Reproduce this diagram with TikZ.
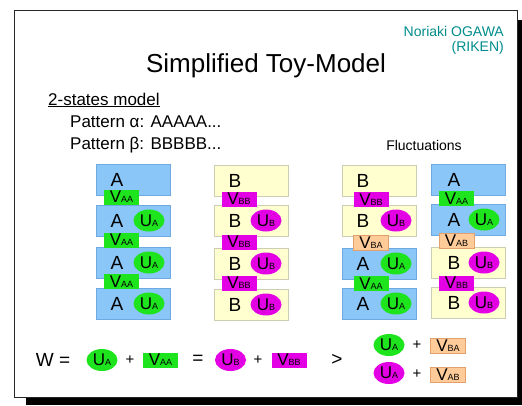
\documentclass[tikz,border=0pt]{standalone}
\usepackage{fontspec}
\setmainfont{Liberation Sans}
\usetikzlibrary{shapes.geometric}
\definecolor{boxblue}{RGB}{138,198,248}
\definecolor{boxblueline}{RGB}{110,170,225}
\definecolor{boxyel}{RGB}{255,255,208}
\definecolor{boxyelline}{RGB}{205,205,180}
\definecolor{ggreen}{RGB}{30,228,30}
\definecolor{mmag}{RGB}{228,0,228}
\definecolor{peach}{RGB}{255,204,153}
\definecolor{peachline}{RGB}{225,160,110}
\definecolor{teal}{RGB}{0,140,140}
\newcommand{\Vlab}[1]{{\fontsize{17}{17}\selectfont V}{\fontsize{9}{9}\selectfont #1}}
\newcommand{\Ulab}[1]{{\fontsize{17}{17}\selectfont U}{\fontsize{9}{9}\selectfont #1}}
\tikzset{
  boxa/.style={rectangle, fill=boxblue, draw=boxblueline, line width=0.6pt, minimum width=74pt, minimum height=31pt, inner sep=0pt, anchor=north west},
  boxb/.style={rectangle, fill=boxyel, draw=boxyelline, line width=0.6pt, minimum width=74pt, minimum height=31pt, inner sep=0pt, anchor=north west},
  letter/.style={font=\fontsize{19}{19}\selectfont, inner sep=0pt},
  vgreen/.style={rectangle, fill=ggreen, minimum width=35pt, minimum height=15pt, inner sep=0pt},
  vmag/.style={rectangle, fill=mmag, minimum width=35pt, minimum height=15pt, inner sep=0pt},
  vpeach/.style={rectangle, fill=peach, draw=peachline, line width=0.5pt, minimum width=35pt, minimum height=15pt, inner sep=0pt},
  ugreen/.style={ellipse, fill=ggreen, minimum width=31pt, minimum height=22pt, inner sep=0pt},
  umag/.style={ellipse, fill=mmag, minimum width=31pt, minimum height=22pt, inner sep=0pt},
  body/.style={font=\fontsize{17}{17}\selectfont, inner sep=0pt},
  op/.style={font=\fontsize{15}{15}\selectfont, inner sep=0pt},
}
\begin{document}
\begin{tikzpicture}[x=1pt,y=-1pt]
\useasboundingbox (0,0) rectangle (522,405);
% slide frame
\fill[black] (26,20) rectangle (522,405);
\draw[fill=white, draw=black!85, line width=0.8pt] (14,10) rectangle (517,397);
% header
\node[anchor=east, text=teal, font=\fontsize{14}{14}\selectfont, inner sep=0pt] (auth) at (504,31) {Noriaki OGAWA};
\node[anchor=east, text=teal, font=\fontsize{14}{14}\selectfont, inner sep=0pt] (inst) at (504,48) {(RIKEN)};
\node[font=\fontsize{26}{26}\selectfont, inner sep=0pt] (title) at (266,66) {Simplified Toy-Model};
\node[body, anchor=west] (model) at (48,100) {\underline{2-states model}};
\node[body, anchor=west] (pa) at (70,122) {Pattern α: AAAAA...};
\node[body, anchor=west] (pb) at (70,145) {Pattern β: BBBBB...};
\node[font=\fontsize{14}{14}\selectfont, inner sep=0pt] (fluc) at (424,145) {Fluctuations};
% column 1 : AAAA
\node[boxa] (c1b1) at (96,164) {};
\node[boxa] (c1b2) at (96,205) {};
\node[boxa] (c1b3) at (96,247) {};
\node[boxa] (c1b4) at (96,288) {};
\node[letter] (c1l1) at (117,179.5) {A};
\node[letter] (c1l2) at (117,220.5) {A};
\node[letter] (c1l3) at (117,262.5) {A};
\node[letter] (c1l4) at (117,303.5) {A};
\node[ugreen] (c1u2) at (149,220.5) {\Ulab{A}};
\node[ugreen] (c1u3) at (149,262.5) {\Ulab{A}};
\node[ugreen] (c1u4) at (149,303.5) {\Ulab{A}};
\node[vgreen] (c1v1) at (121.5,197) {\Vlab{AA}};
\node[vgreen] (c1v2) at (121.5,240) {\Vlab{AA}};
\node[vgreen] (c1v3) at (121.5,281.5) {\Vlab{AA}};
% column 2 : BBBB
\node[boxb] (c2b1) at (214,165) {};
\node[boxb] (c2b2) at (214,205) {};
\node[boxb] (c2b3) at (214,248) {};
\node[boxb] (c2b4) at (214,289) {};
\node[letter] (c2l1) at (235,180.5) {B};
\node[letter] (c2l2) at (235,220.5) {B};
\node[letter] (c2l3) at (235,263.5) {B};
\node[letter] (c2l4) at (235,304.5) {B};
\node[umag] (c2u2) at (266,220.5) {\Ulab{B}};
\node[umag] (c2u3) at (266,263.5) {\Ulab{B}};
\node[umag] (c2u4) at (266,304.5) {\Ulab{B}};
\node[vmag] (c2v1) at (239,199) {\Vlab{BB}};
\node[vmag] (c2v2) at (239,242) {\Vlab{BB}};
\node[vmag] (c2v3) at (239,283) {\Vlab{BB}};
% column 3 : BBAA
\node[boxb] (c3b1) at (342,165) {};
\node[boxb] (c3b2) at (342,205) {};
\node[boxa] (c3b3) at (342,248) {};
\node[boxa] (c3b4) at (342,288) {};
\node[letter] (c3l1) at (363,180.5) {B};
\node[letter] (c3l2) at (363,220.5) {B};
\node[letter] (c3l3) at (363,263.5) {A};
\node[letter] (c3l4) at (363,303.5) {A};
\node[umag] (c3u2) at (396,220.5) {\Ulab{B}};
\node[ugreen] (c3u3) at (396,263.5) {\Ulab{A}};
\node[ugreen] (c3u4) at (396,303.5) {\Ulab{A}};
\node[vmag] (c3v1) at (371,199.5) {\Vlab{BB}};
\node[vpeach] (c3v2) at (371,242.5) {\Vlab{BA}};
\node[vgreen] (c3v3) at (371,283.5) {\Vlab{AA}};
% column 4 : AABB
\node[boxa] (c4b1) at (431,164) {};
\node[boxa] (c4b2) at (431,204) {};
\node[boxb] (c4b3) at (431,247) {};
\node[boxb] (c4b4) at (431,287) {};
\node[letter] (c4l1) at (454,179.5) {A};
\node[letter] (c4l2) at (454,219.5) {A};
\node[letter] (c4l3) at (454,262.5) {B};
\node[letter] (c4l4) at (454,302.5) {B};
\node[ugreen] (c4u2) at (484,219.5) {\Ulab{A}};
\node[umag] (c4u3) at (484,262.5) {\Ulab{B}};
\node[umag] (c4u4) at (484,302.5) {\Ulab{B}};
\node[vgreen] (c4v1) at (456.5,198.5) {\Vlab{AA}};
\node[vpeach] (c4v2) at (456.5,241) {\Vlab{AB}};
\node[vmag] (c4v3) at (456.5,283) {\Vlab{BB}};
% equation
\node[font=\fontsize{19}{19}\selectfont, inner sep=0pt] (w) at (53,360) {W =};
\node[ugreen] (eu1) at (102,360) {\Ulab{A}};
\node[op] (ep1) at (130,360) {+};
\node[vgreen] (ev1) at (160.5,360) {\Vlab{AA}};
\node[font=\fontsize{19}{19}\selectfont, inner sep=0pt] (eq2) at (198,360) {=};
\node[umag] (eu2) at (230.5,360) {\Ulab{B}};
\node[op] (ep2) at (258,360) {+};
\node[vmag] (ev2) at (289,360) {\Vlab{BB}};
\node[font=\fontsize{19}{19}\selectfont, inner sep=0pt] (gt) at (337,360) {>};
\node[ugreen] (eu3) at (389,345) {\Ulab{A}};
\node[op] (ep3) at (417,345) {+};
\node[vpeach] (ev3) at (448,346) {\Vlab{BA}};
\node[umag] (eu4) at (389,373) {\Ulab{A}};
\node[op] (ep4) at (417,374) {+};
\node[vpeach] (ev4) at (448,375) {\Vlab{AB}};
\end{tikzpicture}
\end{document}
